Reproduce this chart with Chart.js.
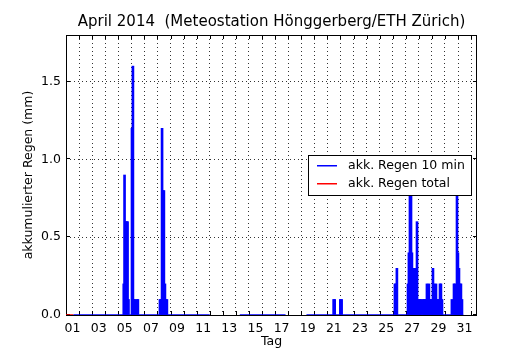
<!DOCTYPE html>
<html>
<head>
<meta charset="utf-8">
<script src="https://cdn.jsdelivr.net/npm/chart.js@4/dist/chart.umd.min.js"></script>
<style>
  html, body { margin: 0; padding: 0; background: #fff; }
</style>
</head>
<body>
<canvas id="regenChart" width="530" height="350"></canvas>
<script>
// Zeitpunkt der Messung als Tag im April (1.0 = 1. April 00:00)
const regenZeit = [
    5.42, 5.48, 5.56, 5.64, 5.71, 5.78, 6.05, 6.12, 6.19, 6.26, 6.43, 6.50,
    8.19, 8.27, 8.35, 8.42, 8.49, 8.57, 8.64, 8.72,
    21.48, 21.56, 21.99, 22.09,
    26.17, 26.25, 26.32,
    27.17, 27.24, 27.32, 27.40, 27.47, 27.55, 27.63, 27.70, 27.78, 27.86, 27.93,
    28.01, 28.09, 28.16, 28.31, 28.39, 28.47, 28.54, 28.62, 28.70, 28.77, 28.85, 28.93,
    29.00, 29.08, 29.16, 29.23, 29.31, 29.39, 29.46, 29.54, 29.62, 29.69, 29.77,
    30.53, 30.69, 30.76, 30.84, 30.92, 30.99, 31.07, 31.15, 31.22, 31.30
];
// Regen pro 10 min (mm)
const regenWert = [
    0.2, 0.9, 0.6, 0.6, 0.6, 0.1, 1.2, 1.6, 0.1, 0.1, 0.1, 0.1,
    0.1, 0.1, 1.2, 0.8, 0.8, 0.2, 0.1, 0.1,
    0.1, 0.1, 0.1, 0.1,
    0.2, 0.2, 0.3,
    0.2, 0.4, 1.0, 0.9, 0.4, 0.3, 0.1, 0.3, 0.1, 0.6, 0.1,
    0.1, 0.1, 0.1, 0.1, 0.1, 0.1, 0.1, 0.2, 0.1, 0.2, 0.1, 0.1,
    0.1, 0.3, 0.2, 0.1, 0.2, 0.1, 0.1, 0.1, 0.2, 0.2, 0.1,
    0.1, 0.2, 0.2, 0.1, 0.9, 0.4, 0.3, 0.2, 0.2, 0.1
];
// trockene Abschnitte (0 mm), null = Messluecke
const basisZeit = [1.56, 12.0, 12.0, 14.3, 17.8, 17.8, 19.4, 31.4];
const basisWert = [0, 0, null, 0, 0, null, 0, 0];
// Gesamtsumme
const totalZeit = [1.0, 1.56];
const totalWert = [0, 0];

const yTicks = [0, 0.5, 1.0, 1.5];
const tagLabels = ['01', '03', '05', '07', '09', '11', '13', '15',
                   '17', '19', '21', '23', '25', '27', '29', '31'];

const schrift = 'DejaVu Sans';
const blau = '#0000ff';
const rot = '#ff0000';
const gitter = 'rgba(0,0,0,0.8)';
const toPoints = (xs, ys) => xs.map((x, i) => ({ x: x, y: ys[i] }));

// Achsenrahmen mit Ticks nach innen (unter den Daten)
const rahmenPlugin = {
    id: 'rahmen',
    beforeDatasetsDraw(chart) {
        const { ctx, chartArea: a, scales: { x, y } } = chart;
        ctx.save();
        ctx.strokeStyle = '#000';
        ctx.lineWidth = 1;
        ctx.beginPath();
        x.ticks.forEach(t => {
            const px = Math.round(x.getPixelForValue(t.value)) + 0.5;
            ctx.moveTo(px, a.bottom); ctx.lineTo(px, a.bottom - 4);
            ctx.moveTo(px, a.top); ctx.lineTo(px, a.top + 4);
        });
        y.ticks.forEach(t => {
            const py = Math.round(y.getPixelForValue(t.value)) - 0.5;
            ctx.moveTo(a.left, py); ctx.lineTo(a.left + 4, py);
            ctx.moveTo(a.right, py); ctx.lineTo(a.right - 4, py);
        });
        ctx.stroke();
        ctx.strokeRect(Math.round(a.left) + 0.5, Math.round(a.top) + 0.5,
                       Math.round(a.width) - 1, Math.round(a.height));
        ctx.restore();
    },
    // Legende mit weissem Kasten im Plotbereich
    afterDraw(chart) {
        const { ctx, chartArea: a } = chart;
        const eintraege = chart.data.datasets.filter(ds => ds.legendeFarbe);
        const bw = 163, bh = 40;
        const bx = Math.round(a.right - 6 - bw);
        const by = Math.round((a.top + a.bottom) / 2 - bh / 2);
        ctx.save();
        ctx.fillStyle = '#fff';
        ctx.fillRect(bx, by, bw, bh);
        ctx.strokeStyle = '#000';
        ctx.lineWidth = 1;
        ctx.strokeRect(bx + 0.5, by + 0.5, bw, bh);
        ctx.font = '12.5px "' + schrift + '"';
        ctx.textBaseline = 'middle';
        eintraege.forEach((ds, i) => {
            const ly = by + 10 + i * 18;
            ctx.fillStyle = ds.legendeFarbe;
            ctx.fillRect(bx + 9, ly, 20, 1.5);
            ctx.fillStyle = '#000';
            ctx.fillText(ds.label, bx + 40, ly + 1);
        });
        ctx.restore();
    }
};

new Chart(document.getElementById('regenChart'), {
    type: 'bar',
    data: {
        datasets: [
            {
                type: 'line',
                label: 'basis',
                data: toPoints(basisZeit, basisWert),
                borderColor: blau,
                borderWidth: 1.5,
                pointRadius: 0,
                spanGaps: false,
                order: 3
            },
            {
                label: 'akk. Regen 10 min',
                data: toPoints(regenZeit, regenWert),
                backgroundColor: blau,
                borderWidth: 0,
                barThickness: 2,
                legendeFarbe: blau,
                order: 2
            },
            {
                type: 'line',
                label: 'akk. Regen total',
                data: toPoints(totalZeit, totalWert),
                borderColor: rot,
                borderWidth: 1.5,
                pointRadius: 0,
                legendeFarbe: rot,
                order: 1
            }
        ]
    },
    options: {
        responsive: false,
        animation: false,
        layout: { padding: { left: 0, right: 53, top: 0, bottom: 0 } },
        scales: {
            x: {
                type: 'linear',
                min: 1,
                max: 32.45,
                offset: false,
                grid: { offset: false, color: gitter, lineWidth: 1, drawTicks: false },
                border: { display: false, dash: [1, 3] },
                ticks: {
                    stepSize: 1,
                    includeBounds: false,
                    autoSkip: false,
                    maxRotation: 0,
                    labelOffset: 6.5,
                    padding: 6,
                    color: '#000',
                    font: { family: schrift, size: 12.5 },
                    callback: v => (v % 2 === 1 ? tagLabels[(v - 1) / 2] : '')
                },
                title: {
                    display: true,
                    text: 'Tag',
                    color: '#000',
                    font: { family: schrift, size: 12.5 },
                    padding: { top: 0, bottom: 1 }
                },
                afterFit: s => { s.height = 35; }
            },
            y: {
                min: 0,
                max: 1.8,
                grid: { color: gitter, lineWidth: 1, drawTicks: false },
                border: { display: false, dash: [1, 3] },
                afterBuildTicks: s => { s.ticks = yTicks.map(v => ({ value: v })); },
                ticks: {
                    padding: 5,
                    color: '#000',
                    font: { family: schrift, size: 12.5 },
                    callback: v => v.toFixed(1)
                },
                title: {
                    display: true,
                    text: 'akkumulierter Regen (mm)',
                    color: '#000',
                    font: { family: schrift, size: 12.5 },
                    padding: { top: 21, bottom: 0 }
                },
                afterFit: s => { s.width = 66; }
            }
        },
        plugins: {
            legend: { display: false },
            tooltip: { enabled: false },
            title: {
                display: true,
                fullSize: false,
                text: 'April 2014  (Meteostation Hönggerberg/ETH Zürich)',
                color: '#000',
                font: { family: schrift, size: 15, weight: 'normal' },
                padding: { top: 13, bottom: 4 }
            }
        }
    },
    plugins: [rahmenPlugin]
});
</script>
</body>
</html>
